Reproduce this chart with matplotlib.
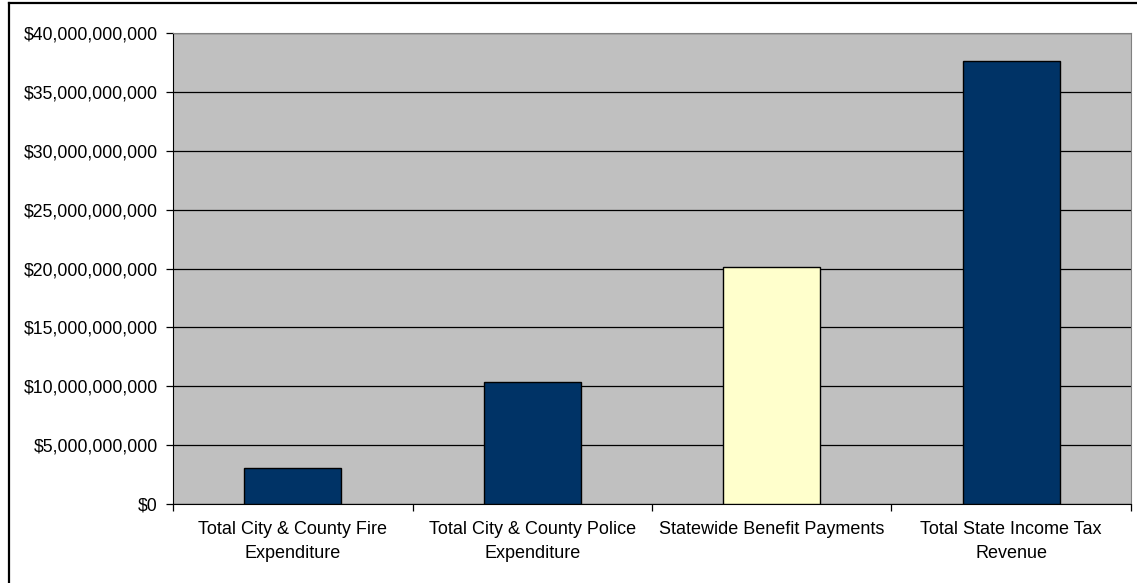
import matplotlib.pyplot as plt
import matplotlib.ticker as mticker
import numpy as np
from matplotlib.lines import Line2D

plt.rcParams["font.family"] = ["Liberation Sans", "DejaVu Sans"]

categories = [
    "Total City & County Fire\nExpenditure",
    "Total City & County Police\nExpenditure",
    "Statewide Benefit Payments",
    "Total State Income Tax\nRevenue",
]
amounts = [3.05e9, 10.34e9, 20.16e9, 37.65e9]
bar_colors = ["#003366", "#003366", "#FFFFCC", "#003366"]

fig = plt.figure(figsize=(11.37, 5.83), dpi=100)
ax = fig.add_axes([0.1522, 0.1355, 0.8425, 0.8079])

x = np.arange(len(categories))
ax.bar(x, amounts, width=0.405, color=bar_colors, edgecolor="black",
       linewidth=1.0, zorder=3)

ax.set_facecolor("#C0C0C0")
ax.set_xlim(-0.5, len(categories) - 0.5)
ax.set_ylim(0, 40e9)
ax.yaxis.set_major_locator(mticker.MultipleLocator(5e9))
ax.yaxis.set_major_formatter(mticker.FuncFormatter(lambda v, p: f"${v:,.0f}"))
ax.grid(axis="y", color="black", linewidth=0.9, zorder=1)

# category labels sit between the boundary ticks
ax.set_xticks(np.arange(len(categories) + 1) - 0.5)
ax.set_xticklabels([])
ax.set_xticks(x, minor=True)
ax.set_xticklabels(categories, minor=True, fontsize=13, linespacing=1.55)
ax.tick_params(axis="x", which="minor", length=0, pad=12)
ax.tick_params(axis="x", which="major", length=5, width=0.9, direction="out")
ax.tick_params(axis="y", length=5, width=0.9, labelsize=12.7, pad=6)

for side in ["top", "right"]:
    ax.spines[side].set_color("#808080")
ax.spines["left"].set_color("black")
ax.spines["bottom"].set_color("black")

# chart frame along the left and top edges
fig.add_artist(Line2D([0.0075, 0.0075], [0, 0.995], color="black", lw=1.6,
                      transform=fig.transFigure))
fig.add_artist(Line2D([0.0075, 1.0], [0.995, 0.995], color="black", lw=1.6,
                      transform=fig.transFigure))

fig.savefig("out.png", dpi=100)
